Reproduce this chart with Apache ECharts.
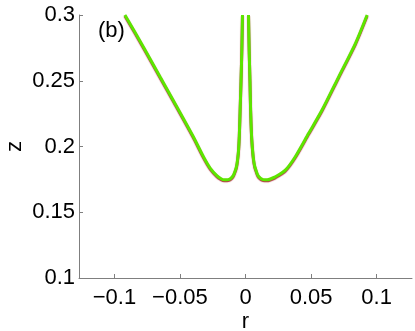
<!DOCTYPE html>
<html>
<head>
<meta charset="utf-8">
<script src="https://cdn.jsdelivr.net/npm/echarts@6/dist/echarts.min.js"></script>
<style>
  html, body { margin: 0; padding: 0; background: #fff; }
  #chart { width: 415px; height: 331px; }
</style>
</head>
<body>
<div id="chart"></div>
<script>
// 左侧曲线 (r, z)
const leftCurve = [
  [-0.0920, 0.3000], [-0.0780, 0.2759], [-0.0652, 0.2530], [-0.0524, 0.2302],
  [-0.0398, 0.2074], [-0.0321, 0.1922], [-0.0270, 0.1836], [-0.0219, 0.1779],
  [-0.0186, 0.1755], [-0.0163, 0.1747], [-0.0140, 0.1747], [-0.0121, 0.1752],
  [-0.0106, 0.1763], [-0.0092, 0.1782], [-0.0079, 0.1813], [-0.0068, 0.1851],
  [-0.0060, 0.1904], [-0.0053, 0.1973], [-0.0047, 0.2087], [-0.0041, 0.2277],
  [-0.0034, 0.2505], [-0.0028, 0.2734], [-0.0023, 0.3000]
]
// 右侧曲线 (r, z)
const rightCurve = [
  [0.0023, 0.3000], [0.0028, 0.2734], [0.0034, 0.2505], [0.0039, 0.2277],
  [0.0046, 0.2087], [0.0054, 0.1973], [0.0061, 0.1904], [0.0070, 0.1851],
  [0.0082, 0.1813], [0.0094, 0.1782], [0.0109, 0.1763], [0.0125, 0.1752],
  [0.0143, 0.1747], [0.0166, 0.1747], [0.0189, 0.1753], [0.0227, 0.1769],
  [0.0304, 0.1820], [0.0380, 0.1922], [0.0482, 0.2100], [0.0584, 0.2277],
  [0.0711, 0.2530], [0.0839, 0.2785], [0.0928, 0.3000]
]
const xTicks = [-0.1, -0.05, 0, 0.05, 0.1]
const yTicks = [0.1, 0.15, 0.2, 0.25, 0.3]

const font = 'Liberation Sans, Arial, sans-serif'
const axisGrey = '#7f7f7f'

const lineStyle = {
  color: '#5ce600',
  width: 3,
  shadowColor: '#b0303c',
  shadowBlur: 1,
  shadowOffsetY: 1
}

const chart = echarts.init(document.getElementById('chart'))
chart.setOption({
  animation: false,
  title: {
    text: '(b)',
    left: 93,
    top: 15,
    textStyle: { fontFamily: font, fontSize: 22, fontWeight: 'normal', color: '#000' }
  },
  grid: { left: 79, right: 3, top: 15, bottom: 53, outerBoundsMode: 'none' },
  xAxis: {
    type: 'value',
    min: -0.127,
    max: 0.127,
    name: 'r',
    nameLocation: 'middle',
    nameGap: 33,
    nameMoveOverlap: false,
    nameTextStyle: { fontFamily: font, fontSize: 22, color: '#000' },
    axisLine: { onZero: false, lineStyle: { color: axisGrey, width: 1 } },
    axisTick: { show: true, inside: true, length: 4, customValues: xTicks, lineStyle: { color: axisGrey } },
    axisLabel: {
      customValues: xTicks,
      margin: 9,
      fontFamily: font,
      fontSize: 22,
      color: '#000',
      formatter: v => String(v).replace('-', '\u2212')
    },
    splitLine: { show: false }
  },
  yAxis: {
    type: 'value',
    min: 0.1,
    max: 0.3,
    interval: 0.05,
    name: 'z',
    nameLocation: 'middle',
    nameGap: 53,
    nameMoveOverlap: false,
    nameTextStyle: { fontFamily: font, fontSize: 22, color: '#000' },
    axisLine: { show: true, onZero: false, lineStyle: { color: axisGrey, width: 1 } },
    axisTick: { show: true, inside: true, length: 4, lineStyle: { color: axisGrey } },
    axisLabel: {
      customValues: yTicks,
      margin: 4,
      fontFamily: font,
      fontSize: 22,
      color: '#000'
    },
    splitLine: { show: false }
  },
  series: [
    { type: 'line', data: leftCurve, showSymbol: false, smooth: 0.25, lineStyle: lineStyle },
    { type: 'line', data: rightCurve, showSymbol: false, smooth: 0.25, lineStyle: lineStyle }
  ]
})
</script>
</body>
</html>
